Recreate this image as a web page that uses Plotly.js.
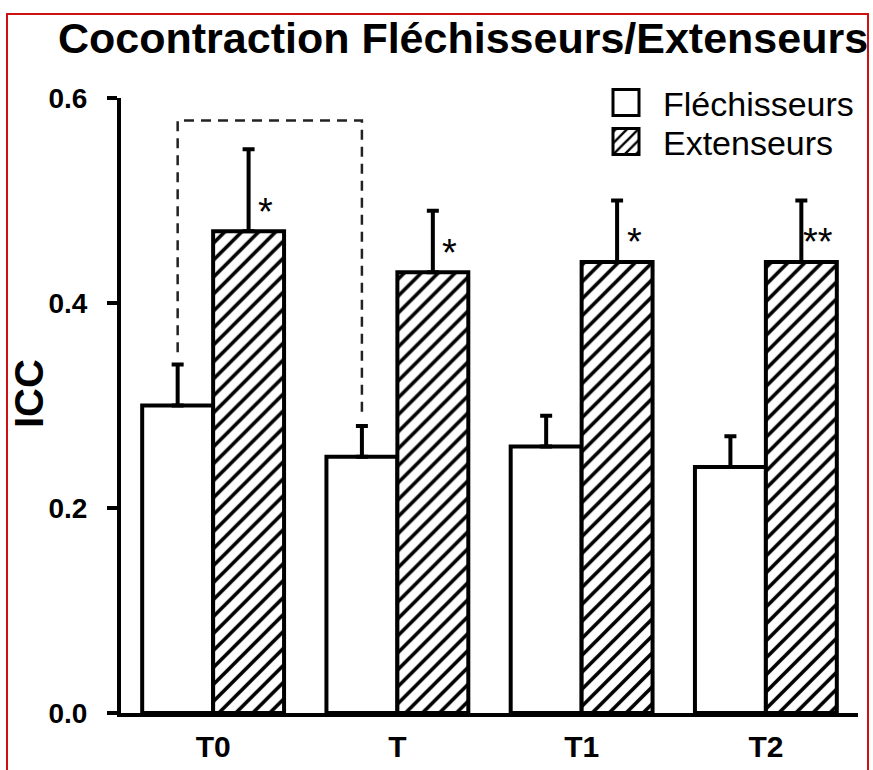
<!DOCTYPE html>
<html>
<head>
<meta charset="utf-8">
<script src="https://cdn.plot.ly/plotly-3.0.1.min.js"></script>
<style>
  html, body { margin: 0; padding: 0; background: #ffffff; }
  #chart { width: 873px; height: 770px; }
</style>
</head>
<body>
<div id="chart"></div>
<script>
// ---- data ----
const categories = ['T0', 'T', 'T1', 'T2'];
const flechisseurs = [0.30, 0.25, 0.26, 0.24];
const flechisseursErr = [0.04, 0.03, 0.03, 0.03];
const extenseurs = [0.47, 0.43, 0.44, 0.44];
const extenseursErr = [0.08, 0.06, 0.06, 0.06];
const extStars = ['*', '*', '*', '**'];
const yTickVals = [0, 0.2, 0.4, 0.6];
const yTickText = ['0.0', '0.2', '0.4', '0.6'];
// significance bracket between T0 and T (Fléchisseurs)
const bracketFrom = 0;   // index of T0
const bracketTo = 1;     // index of T
const bracketTop = 0.578;
const bracketStar = '*';

const FONT = 'Liberation Sans, Arial, Helvetica, sans-serif';
const zeros = categories.map(() => 0);

const traceF = {
  type: 'bar', name: 'Fléchisseurs', x: categories, y: flechisseurs,
  marker: { color: '#ffffff', line: { color: '#000000', width: 4 } },
  error_y: { type: 'data', symmetric: false, array: flechisseursErr, arrayminus: zeros,
             color: '#000000', thickness: 4, width: 6 },
  legend: 'legend', hoverinfo: 'skip'
};
const traceE = {
  type: 'bar', name: 'Extenseurs', x: categories, y: extenseurs,
  marker: { color: '#ffffff', line: { color: '#000000', width: 4 },
            pattern: { shape: '/', fgcolor: '#000000', bgcolor: '#ffffff', size: 12, solidity: 0.3 } },
  error_y: { type: 'data', symmetric: false, array: extenseursErr, arrayminus: zeros,
             color: '#000000', thickness: 4, width: 6 },
  legend: 'legend2', hoverinfo: 'skip'
};

// plot-area geometry (pixels) used for paper-referenced decorations
const L = 121, R = 15, T = 98, B = 57, W = 873, H = 770;
const pw = W - L - R, ph = H - T - B;
const px2paperX = p => (p - L) / pw;
const px2paperY = p => (H - B - p) / ph;

const bargap = 0.23;
const barHalf = (1 - bargap) / 4; // offset of each bar center from category
const xF = i => i - barHalf;
const xE = i => i + barHalf;

const starFont = { family: FONT, size: 38, color: '#000000' };
const annotations = [];
extenseurs.forEach((v, i) => {
  annotations.push({
    x: xE(i), y: v + 0.025, xref: 'x', yref: 'y', text: extStars[i],
    showarrow: false, xanchor: 'center', yanchor: 'middle', xshift: 17, yshift: -6,
    font: starFont
  });
});
annotations.push({
  x: (xF(bracketFrom) + xF(bracketTo)) / 2, y: bracketTop + 0.024, xref: 'x', yref: 'y',
  text: bracketStar, showarrow: false, xanchor: 'center', yanchor: 'middle', xshift: 6, yshift: -6,
  font: starFont
});
annotations.push({
  x: px2paperX(29), y: px2paperY(394), xref: 'paper', yref: 'paper', text: '<b>ICC</b>',
  showarrow: false, textangle: -90, xanchor: 'center', yanchor: 'middle',
  font: { family: FONT, size: 40, color: '#000000' }
});

const y0L = flechisseurs[bracketFrom] + flechisseursErr[bracketFrom] + 0.012;
const y0R = flechisseurs[bracketTo] + flechisseursErr[bracketTo] + 0.01;
const shapes = [
  { type: 'path', xref: 'x', yref: 'y',
    path: `M ${xF(bracketFrom)},${y0L} L ${xF(bracketFrom)},${bracketTop} L ${xF(bracketTo)},${bracketTop} L ${xF(bracketTo)},${y0R}`,
    line: { color: '#222222', width: 2.5, dash: '10px,7px' } },
  { type: 'rect', xref: 'paper', yref: 'paper', layer: 'above',
    x0: px2paperX(7), x1: px2paperX(868), y0: px2paperY(800), y1: px2paperY(14),
    line: { color: '#cc1111', width: 2 }, fillcolor: 'rgba(0,0,0,0)' }
];

const legendItemWidth = 46;        // text then starts at itemwidth + 10 px
const legendLeftPx = 663 - (legendItemWidth + 10);

const layout = {
  width: W, height: H,
  margin: { l: L, r: R, t: T, b: B, pad: 0 },
  paper_bgcolor: '#ffffff', plot_bgcolor: '#ffffff',
  font: { family: FONT, color: '#000000' },
  title: { text: '<b>Cocontraction Fléchisseurs/Extenseurs</b>', xref: 'container', yref: 'container',
           x: 58 / W, xanchor: 'left', y: 1 - 38 / H, yanchor: 'middle',
           font: { family: FONT, size: 43, color: '#000000' } },
  barmode: 'group', bargap: bargap, bargroupgap: 0,
  xaxis: {
    type: 'category', range: [-0.5, categories.length - 0.5], fixedrange: true,
    showline: true, linecolor: '#000000', linewidth: 4, showgrid: false, zeroline: false,
    ticks: '', ticklabelstandoff: 4,
    tickfont: { family: FONT, size: 30, color: '#000000', weight: 'bold' }
  },
  yaxis: {
    range: [0, 0.6], fixedrange: true, tickvals: yTickVals, ticktext: yTickText,
    showline: true, linecolor: '#000000', linewidth: 4, showgrid: false, zeroline: false,
    ticks: 'outside', ticklen: 10, tickwidth: 4, tickcolor: '#000000', ticklabelstandoff: 14,
    tickfont: { family: FONT, size: 28, color: '#000000', weight: 'bold' }
  },
  showlegend: true,
  legend: { x: px2paperX(legendLeftPx), y: px2paperY(103), xanchor: 'left', yanchor: 'middle',
            itemwidth: legendItemWidth, bgcolor: 'rgba(0,0,0,0)', borderwidth: 0,
            font: { family: FONT, size: 34, color: '#000000' } },
  legend2: { x: px2paperX(legendLeftPx), y: px2paperY(142), xanchor: 'left', yanchor: 'middle',
             itemwidth: legendItemWidth, bgcolor: 'rgba(0,0,0,0)', borderwidth: 0,
             font: { family: FONT, size: 34, color: '#000000' } },
  annotations: annotations,
  shapes: shapes
};

Plotly.newPlot('chart', [traceF, traceE], layout, { displayModeBar: false, staticPlot: true })
  .then(gd => {
    // enlarge the legend swatches (keep the pattern spacing) to match the reference's bigger boxes
    gd.querySelectorAll('.legendpoints path').forEach(p => {
      p.setAttribute('d', 'M13,13H-13V-13H13Z');
      p.setAttribute('transform', 'translate(' + (626 - legendLeftPx) + ',0)');
      p.style.strokeWidth = '3px';
    });
  });
</script>
</body>
</html>
